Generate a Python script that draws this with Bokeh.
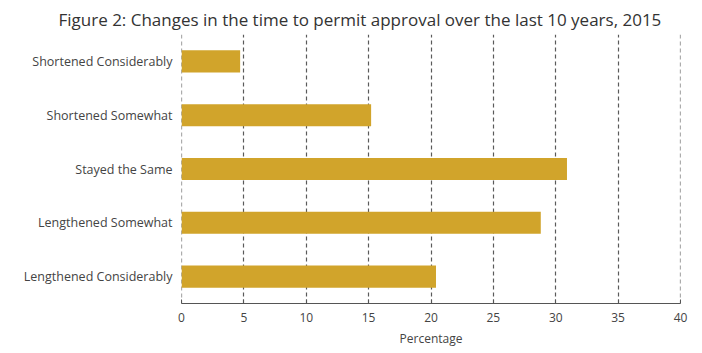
from bokeh.plotting import figure
from bokeh.models import Range1d, FactorRange, FixedTicker, Span
from bokeh.embed import file_html
from bokeh.resources import INLINE

categories = ["Shortened Considerably", "Shortened Somewhat", "Stayed the Same",
              "Lengthened Somewhat", "Lengthened Considerably"]
values = [4.7, 15.2, 30.9, 28.8, 20.4]
x_ticks = [0, 5, 10, 15, 20, 25, 30, 35, 40]

p = figure(width=702, height=353, output_backend="svg", toolbar_location=None,
           y_range=FactorRange(factors=list(reversed(categories)), range_padding=0),
           x_range=Range1d(0, 40),
           title="Figure 2: Changes in the time to permit approval over the last 10 years, 2015",
           min_border_left=181, min_border_right=22, min_border_top=34, min_border_bottom=50)

grid_color = "#5a5a5a"
grid_dash = "4 3"
for edge in (x_ticks[0], x_ticks[-1]):
    p.add_layout(Span(location=edge, dimension="height", line_color=grid_color,
                      line_dash=grid_dash, line_width=1.2, level="underlay"))

p.hbar(y=categories, right=values, left=0, height=0.41, color="#D1A42B", line_color=None)

p.title.align = "left"
p.title.offset = -123
p.title.text_font = "Open Sans"
p.title.text_font_size = "17px"
p.title.text_font_style = "normal"
p.title.text_color = "#333333"
p.title.standoff = 8

p.outline_line_color = None
p.ygrid.grid_line_color = None
p.xgrid.grid_line_color = grid_color
p.xgrid.grid_line_dash = grid_dash
p.xgrid.grid_line_width = 1.2
p.xgrid.ticker = FixedTicker(ticks=x_ticks)

p.xaxis.ticker = FixedTicker(ticks=x_ticks)
p.xaxis.axis_label = "Percentage"
p.xaxis.axis_label_text_font = "Open Sans"
p.xaxis.axis_label_text_font_size = "12px"
p.xaxis.axis_label_text_font_style = "normal"
p.xaxis.axis_label_text_color = "#444444"
p.xaxis.axis_label_standoff = 5
p.xaxis.major_label_text_font = "Open Sans"
p.xaxis.major_label_text_font_size = "12px"
p.xaxis.major_label_text_color = "#444444"
p.xaxis.major_label_standoff = 9
p.xaxis.axis_line_color = "#555555"
p.xaxis.major_tick_line_color = "#555555"
p.xaxis.major_tick_in = 4
p.xaxis.major_tick_out = 0
p.xaxis.minor_tick_line_color = None

p.yaxis.axis_line_color = None
p.yaxis.major_tick_line_color = None
p.yaxis.minor_tick_line_color = None
p.yaxis.major_label_text_font = "Open Sans"
p.yaxis.major_label_text_font_size = "12.5px"
p.yaxis.major_label_text_color = "#444444"
p.yaxis.major_label_standoff = 3

open("out.html", "w").write(file_html(p, INLINE))
